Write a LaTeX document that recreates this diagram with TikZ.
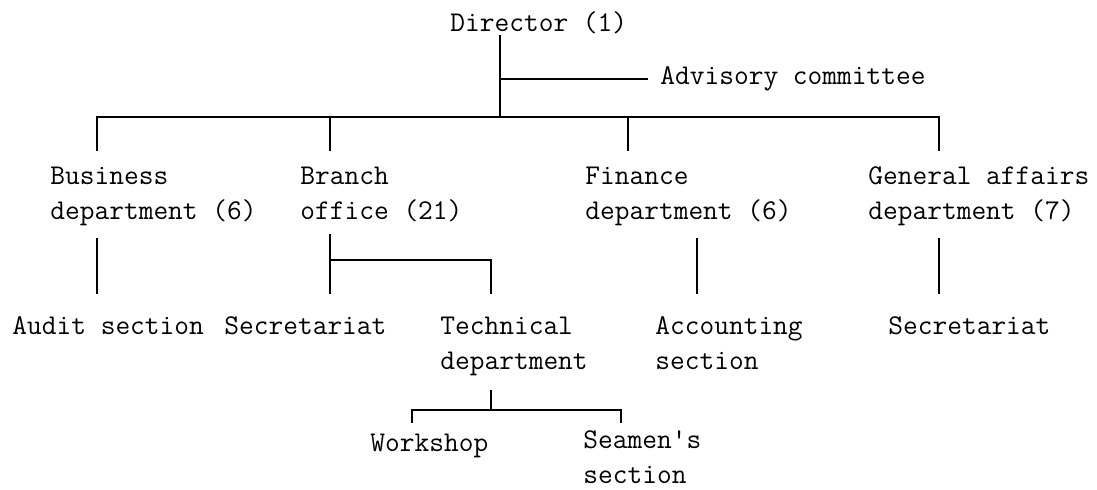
\documentclass[tikz,border=0pt]{standalone}
\usepackage{fontspec}
\newcommand{\orgfont}{\ttfamily\fontsize{14.3}{17.5}\selectfont}
\begin{document}
\begin{tikzpicture}[x=0.5pt,y=-0.5pt]
        \tikzstyle{unit}=[inner sep=0pt,anchor=base west,align=left,font=\orgfont]
        \tikzstyle{edge}=[draw,line width=0.9pt]
        \useasboundingbox (0,0) rectangle (1097,490);
       \begin{scope}
         % two-line units sit on the baseline of their last line
         \node [unit] (dir) at (450,32) {Director (1)};
         \node [unit] (adv) at (660,85) {Advisory committee};
         \node [unit] (biz) at (50,220) {Business\\department (6)};
         \node [unit] (br) at (300,220) {Branch\\office (21)};
         \node [unit] (fin) at (585,220) {Finance\\department (6)};
         \node [unit] (gen) at (868,220) {General affairs\\department (7)};
         \node [unit] (aud) at (12,335) {Audit section};
         \node [unit] (sec1) at (224,335) {Secretariat};
         \node [unit] (tech) at (440,370) {Technical\\department};
         \node [unit] (acc) at (655,370) {Accounting\\section};
         \node [unit] (sec2) at (888,335) {Secretariat};
         \node [unit] (work) at (370,452) {Workshop};
         \node [unit] (sea) at (583,484) {Seamen's\\section};
         % junctions
         \coordinate (hub) at (500,117);
         \coordinate (advj) at (500,79);
         \coordinate (d1) at (97,151);
         \coordinate (d2) at (330,151);
         \coordinate (d3) at (628,151);
         \coordinate (d4) at (939,151);
         \coordinate (e1) at (97,294);
         \coordinate (e2) at (330,294);
         \coordinate (e3) at (697,294);
         \coordinate (e4) at (939,294);
         \coordinate (bj) at (330,260);
         \coordinate (tj) at (491,294);
         \coordinate (tk) at (491,410);
         \coordinate (w1) at (412,423);
         \coordinate (w2) at (621,423);
         \path[edge] (dir.south -| hub) -- (hub);
         \path[edge] (advj) -- ([xshift=-6pt]advj -| adv.west);
         \path[edge] (d1) |- (d4 |- hub) -- (d4);
         \path[edge] (d2 |- hub) -- (d2);
         \path[edge] (d3 |- hub) -- (d3);
         \path[edge] ([yshift=-5.5pt]biz.south -| e1) -- (e1);
         \path[edge] ([yshift=-5.5pt]br.south -| e2) -- (e2);
         \path[edge] ([yshift=-5.5pt]fin.south -| e3) -- (e3);
         \path[edge] ([yshift=-5.5pt]gen.south -| e4) -- (e4);
         \path[edge] (bj) -| (tj);
         \path[edge] ([yshift=-6.5pt]tech.south -| tk) -- (tk);
         \path[edge] (w1) |- (tk) -| (w2);
        \end{scope}
      \end{tikzpicture}
\end{document}
